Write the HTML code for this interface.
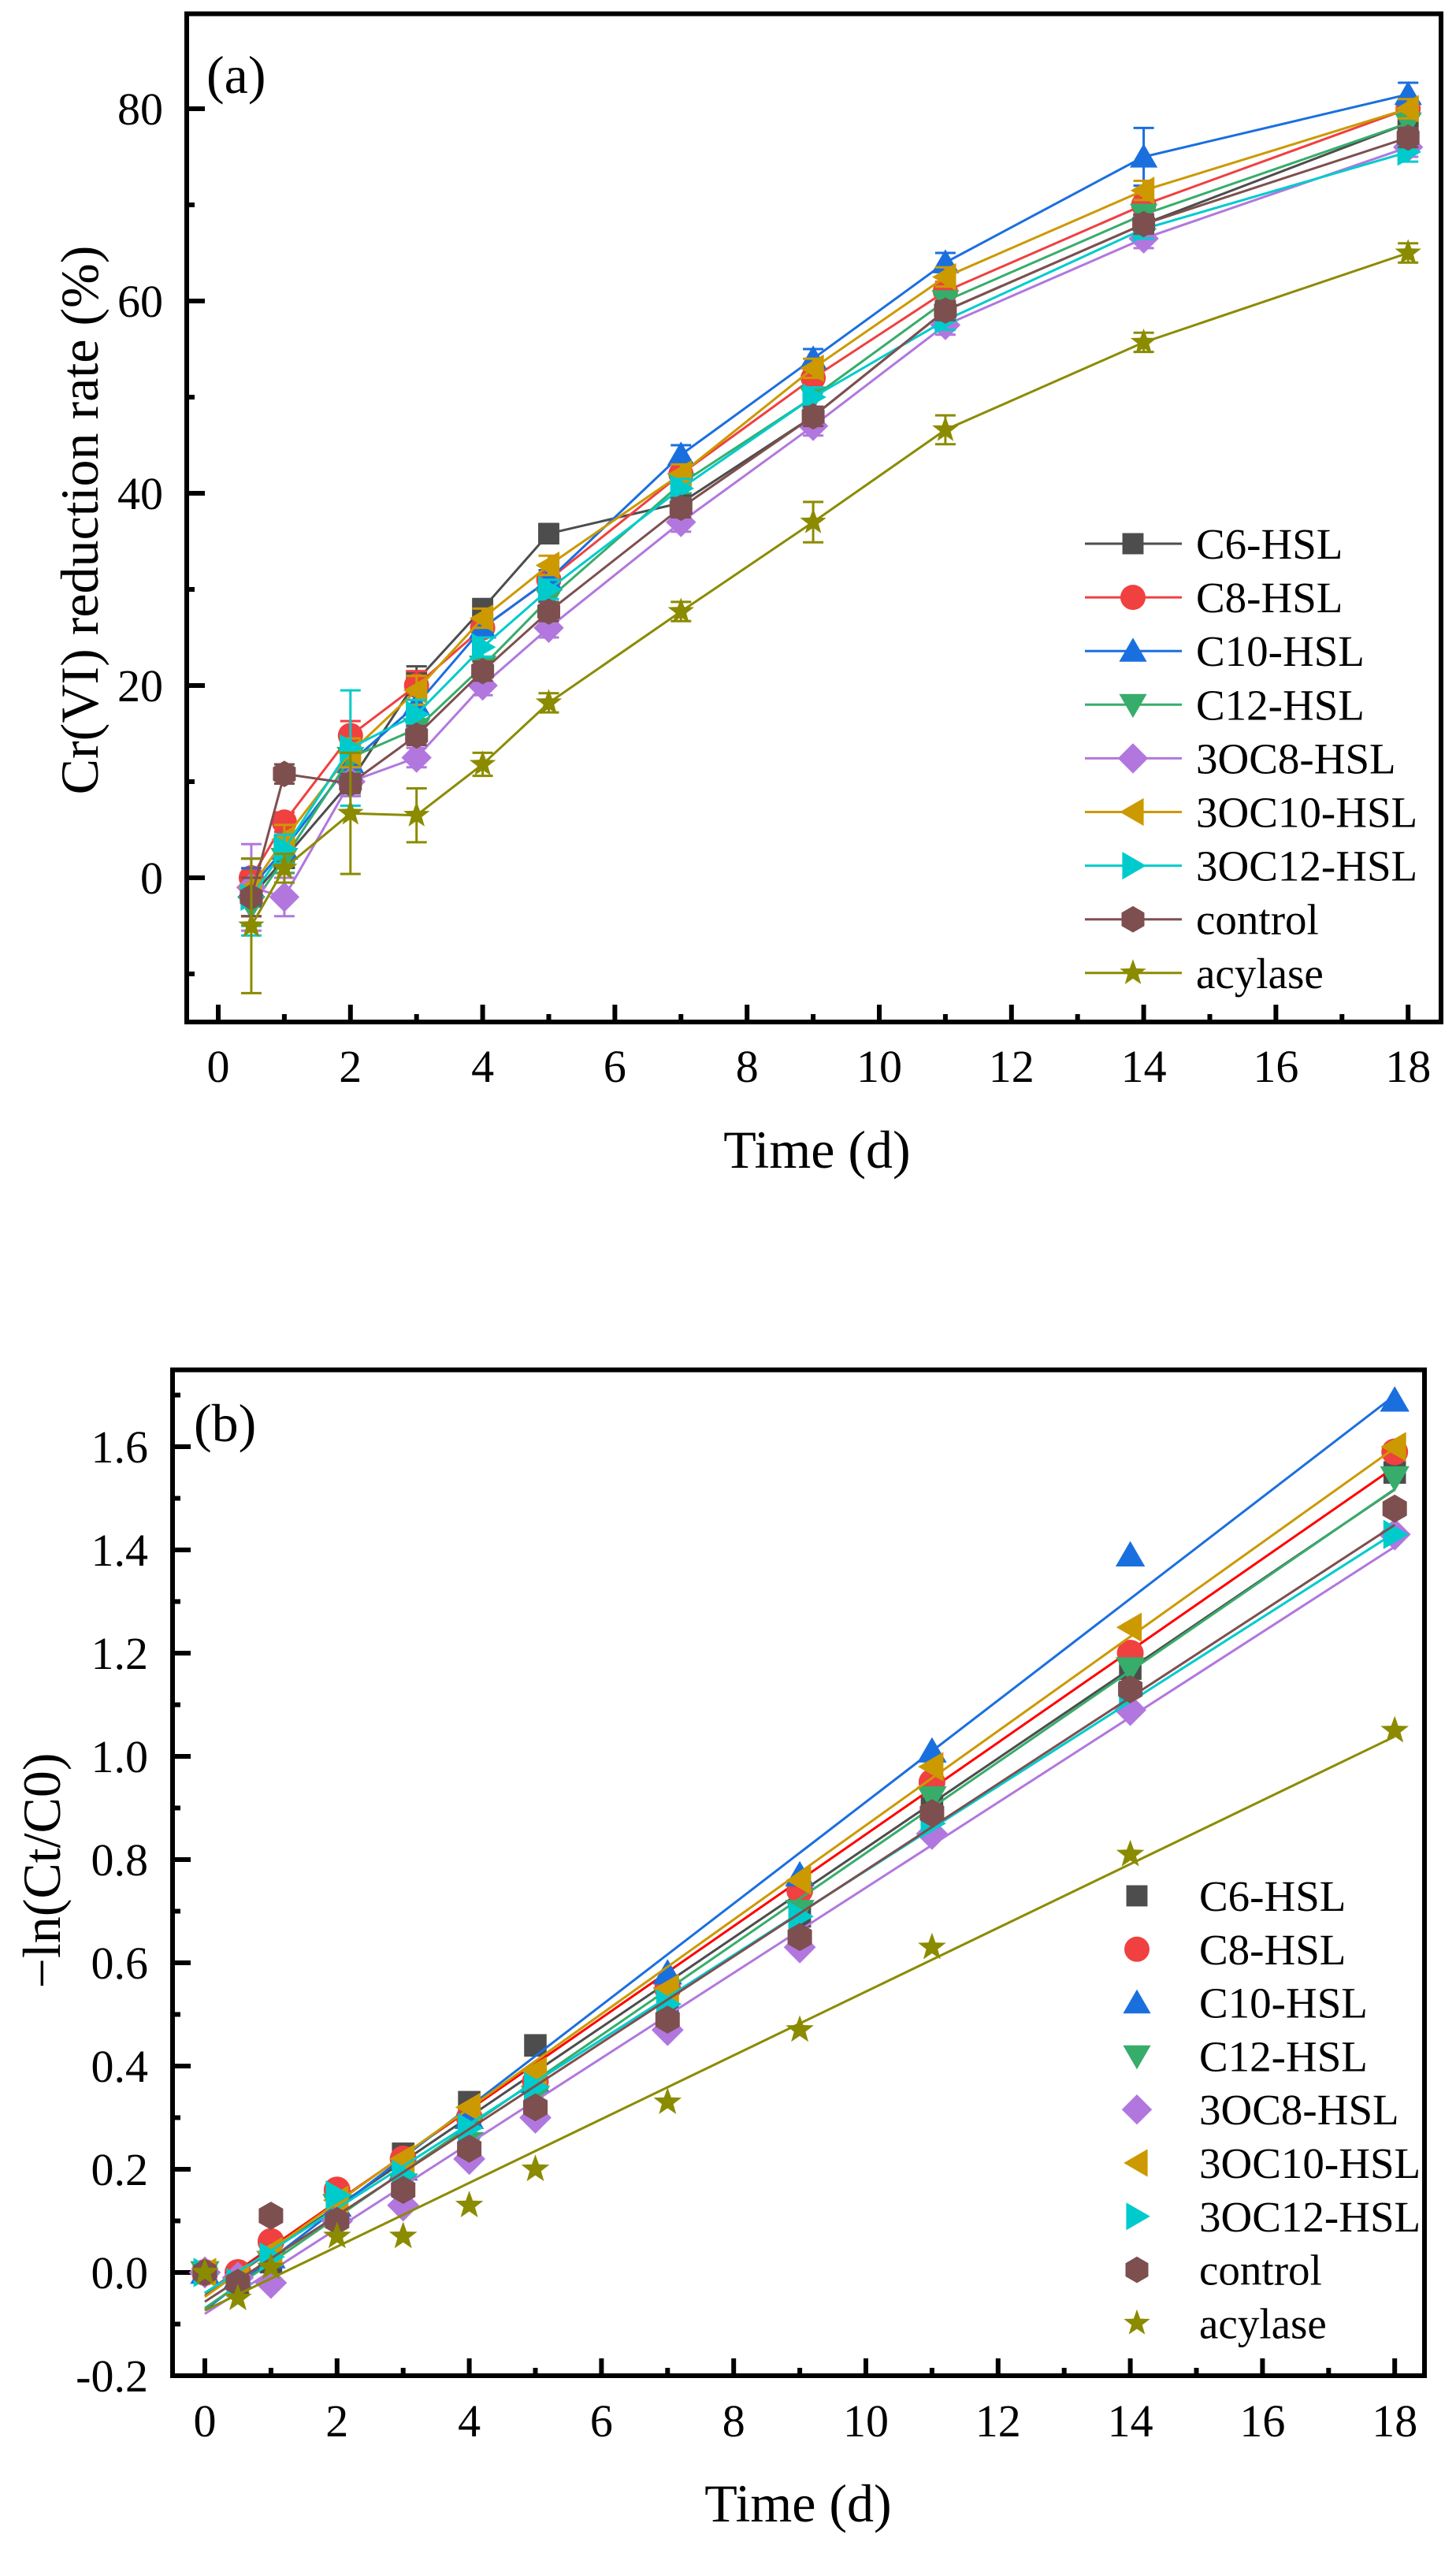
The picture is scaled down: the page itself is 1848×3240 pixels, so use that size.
<!DOCTYPE html>
<html><head><meta charset="utf-8"><style>
html,body{margin:0;padding:0;background:#fff;}
svg{display:block;font-family:"Liberation Serif","Times New Roman",serif;}
</style></head><body>
<svg id="fig" width="1848" height="3240" viewBox="0 0 1848 3240" xmlns="http://www.w3.org/2000/svg">
<rect x="0" y="0" width="1848" height="3240" fill="#fff"/>
<g id="pa"></g>
<g id="pb"></g>
</svg>
<script>
const seriesNames = ["C6-HSL","C8-HSL","C10-HSL","C12-HSL","3OC8-HSL","3OC10-HSL","3OC12-HSL","control","acylase"];
const seriesColors = ["#4d4d4d","#f04040","#1a6fdf","#37ad6b","#b177de","#cc9900","#00cbcc","#7e4f4f","#8b8b00"];
const fitColors = ["#4d4d4d","#ff0000","#1a6fdf","#37ad6b","#b177de","#cc9900","#00cbcc","#7e4f4f","#8b8b00"];
const seriesShapes = ["square","circle","tri-up","tri-down","diamond","tri-left","tri-right","hexagon","star"];

// Panel (a) data
const timesA = [0.5,1,2,3,4,5,7,9,11,14,18];
const rateC6 = [-2,2,10,20.5,28,35.8,39,48,59,68,78.5];
const rateC8 = [0,5.8,14.8,20,26,31,42,52,61,70,80];
const rateC10 = [-1,3,12,18,26,31,44,54,64,75,81.5];
const rateC12 = [-3,2,12.5,15.5,22,29,41,50,60,69,78.5];
const rate3OC8 = [-1,-2,10,12.5,20,26,37,47,57.5,66.5,76];
const rate3OC10 = [-1,4,13,19.5,27,32.5,42,53,62.5,71.5,80];
const rate3OC12 = [-2,3,13.5,17,24,30,40.5,50,58,67.5,75.5];
const rateControl = [-2,10.8,9.8,14.8,21.5,27.7,38.5,48,59,68,77];
const rateAcylase = [-5,1,6.7,6.5,11.8,18.2,27.7,37,46.6,55.7,65];
const errC6 = [2,1.5,1.5,1.5,1,1,1,1,1,1,1];
const errC8 = [2,1,1.5,1.5,1,1,1,1,1,1,1];
const errC10 = [2,1.5,1.5,1.5,1,1,1,1,1,3,1.2];
const errC12 = [2,1.5,1.5,1.5,1,1,1,1,1,1,1];
const err3OC8 = [4.5,2,1.5,1,1,1,1,1,1,1,1];
const err3OC10 = [3,1.5,1.5,1.5,1,1,1,1,1,1,1];
const err3OC12 = [4,1.5,6,1.5,1,1,1,1,1,1,1];
const errControl = [2,1,1,1,1,1,1,1,1,1,1];
const errAcylase = [7,1.5,6.3,2.8,1.2,1,1,2.1,1.5,1,1];
const ticksAX = [0,2,4,6,8,10,12,14,16,18];
const ticksAY = [0,20,40,60,80];

// Panel (b) data
const timesB = [0,0.5,1,2,3,4,5,7,9,11,14,18];
const lnC6 = [0,-0.02,0.02,0.11,0.23,0.33,0.44,0.50,0.69,0.90,1.17,1.55];
const lnC8 = [0,0,0.06,0.16,0.22,0.30,0.37,0.55,0.74,0.95,1.20,1.59];
const lnC10 = [0,-0.01,0.03,0.13,0.20,0.30,0.37,0.58,0.77,1.01,1.39,1.69];
const lnC12 = [0,-0.03,0.02,0.13,0.17,0.25,0.34,0.53,0.70,0.92,1.17,1.54];
const ln3OC8 = [0,-0.01,-0.02,0.10,0.13,0.22,0.30,0.47,0.63,0.85,1.09,1.43];
const ln3OC10 = [0,-0.01,0.04,0.14,0.22,0.32,0.39,0.55,0.76,0.98,1.25,1.60];
const ln3OC12 = [0,-0.02,0.03,0.15,0.19,0.28,0.36,0.52,0.69,0.87,1.12,1.43];
const lnControl = [0,-0.02,0.11,0.10,0.16,0.24,0.32,0.49,0.65,0.89,1.13,1.48];
const lnAcylase = [0,-0.05,0.01,0.07,0.07,0.13,0.20,0.33,0.47,0.63,0.81,1.05];
const ticksBX = [0,2,4,6,8,10,12,14,16,18];
const ticksBY = [-0.2,0,0.2,0.4,0.6,0.8,1.0,1.2,1.4,1.6];

const rateSeries = [rateC6,rateC8,rateC10,rateC12,rate3OC8,rate3OC10,rate3OC12,rateControl,rateAcylase];
const errSeries = [errC6,errC8,errC10,errC12,err3OC8,err3OC10,err3OC12,errControl,errAcylase];
const lnSeries = [lnC6,lnC8,lnC10,lnC12,ln3OC8,ln3OC10,ln3OC12,lnControl,lnAcylase];

const NS = "http://www.w3.org/2000/svg";
function mk(parent, tag, attrs, txt){
  const e = document.createElementNS(NS, tag);
  for (const k in attrs) e.setAttribute(k, attrs[k]);
  if (txt !== undefined) e.textContent = txt;
  parent.appendChild(e);
  return e;
}
function markerPts(shape, cx, cy, s){
  const r = s/2;
  if (shape==="tri-up") return [[cx,cy-r*1.05],[cx+r*1.1,cy+r*0.85],[cx-r*1.1,cy+r*0.85]];
  if (shape==="tri-down") return [[cx,cy+r*1.05],[cx+r*1.1,cy-r*0.85],[cx-r*1.1,cy-r*0.85]];
  if (shape==="tri-left") return [[cx-r*1.05,cy],[cx+r*0.85,cy-r*1.1],[cx+r*0.85,cy+r*1.1]];
  if (shape==="tri-right") return [[cx+r*1.05,cy],[cx-r*0.85,cy-r*1.1],[cx-r*0.85,cy+r*1.1]];
  if (shape==="diamond") return [[cx,cy-r*1.2],[cx+r*1.2,cy],[cx,cy+r*1.2],[cx-r*1.2,cy]];
  if (shape==="hexagon"){ const p=[]; for(let i=0;i<6;i++){const a=Math.PI/6+i*Math.PI/3; p.push([cx+r*1.05*Math.cos(a),cy+r*1.05*Math.sin(a)]);} return p; }
  if (shape==="star"){ const p=[]; for(let i=0;i<10;i++){const a=-Math.PI/2+i*Math.PI/5; const rr=i%2?r*0.45:r*1.1; p.push([cx+rr*Math.cos(a),cy+rr*Math.sin(a)]);} return p; }
  return null;
}
function drawMarker(g, shape, cx, cy, s, color){
  let el;
  if (shape==="square") el = mk(g,"rect",{x:cx-s*0.42,y:cy-s*0.42,width:s*0.84,height:s*0.84,fill:color});
  else if (shape==="circle") el = mk(g,"circle",{cx:cx,cy:cy,r:s*0.5,fill:color});
  else el = mk(g,"polygon",{points:markerPts(shape,cx,cy,s).map(p=>p[0].toFixed(1)+","+p[1].toFixed(1)).join(" "),fill:color});
  return el;
}

function frameAndAxes(g, L, R, T, B, xs, ys, xTicks, yTicks, xMinorStep, xMin, xMax, yMinorStep, yMin, yMax, fmtY, yLabelX, xLabelY){
  const frame = mk(g,"rect",{x:L,y:T,width:R-L,height:B-T,fill:"none",stroke:"#000","stroke-width":6});
  
  
  for (let v=xMin; v<=xMax+1e-9; v+=xMinorStep){
    const major = xTicks.some(t=>Math.abs(t-v)<1e-6);
    const t = mk(g,"line",{x1:xs(v),x2:xs(v),y1:B,y2:B-(major?22:10),stroke:"#000","stroke-width":6});
    
    
  }
  for (let v=yMin; v<=yMax+1e-9; v+=yMinorStep){
    const major = yTicks.some(t=>Math.abs(t-v)<1e-6);
    const t = mk(g,"line",{x1:L,x2:L+(major?23:10),y1:ys(v),y2:ys(v),stroke:"#000","stroke-width":6});
    
    
  }
  xTicks.forEach(v=>{
    const t = mk(g,"text",{x:xs(v),y:xLabelY,"font-size":58,"text-anchor":"middle",fill:"#000"},String(v));
    
    
  });
  yTicks.forEach(v=>{
    const t = mk(g,"text",{x:yLabelX,y:ys(v)+20,"font-size":58,"text-anchor":"end",fill:"#000"},fmtY(v));
    
    
  });
}

// ---------- Panel A ----------
(function(){
  const g = document.getElementById('pa');
  const L=237,R=1829,T=17.5,B=1297;
  const xs = v => 277 + v*83.9;
  const ys = v => 1114 - v*12.2;
  frameAndAxes(g,L,R,T,B,xs,ys,ticksAX,ticksAY,1,0,18,10,-10,80,v=>String(v),207,1373);
  const xt = mk(g,"text",{x:1037,y:1482,"font-size":68,"text-anchor":"middle"},"Time (d)");
  
  
  const yt = mk(g,"text",{x:0,y:0,"font-size":68,"text-anchor":"middle",transform:"translate(124,660) rotate(-90)"},"Cr(VI) reduction rate (%)");
  
  
  const pl = mk(g,"text",{x:262,y:118,"font-size":68},"(a)");
  
  
  for (let s=0; s<seriesNames.length; s++){
    const sg = mk(g,"g",{});
    
    
    const vals = rateSeries[s], errs = errSeries[s], col = seriesColors[s];
    const ln = mk(sg,"polyline",{points:timesA.map((t,i)=>xs(t).toFixed(1)+","+ys(vals[i]).toFixed(1)).join(" "),fill:"none",stroke:col,"stroke-width":3});
    
    
    timesA.forEach((t,i)=>{
      const x=xs(t), y1=ys(vals[i]+errs[i]), y2=ys(vals[i]-errs[i]);
      const e = mk(sg,"path",{d:`M${x},${y1}V${y2}M${x-13},${y1}H${x+13}M${x-13},${y2}H${x+13}`,stroke:col,"stroke-width":3,fill:"none"});
      
      
    });
    timesA.forEach((t,i)=>{
      const m = drawMarker(sg, seriesShapes[s], xs(t), ys(vals[i]), 32, col);
      
      
    });
  }
  const lg = mk(g,"g",{});
  
  
  seriesNames.forEach((n,i)=>{
    const y = 690 + i*68.1;
    const eg = mk(lg,"g",{});
    
    
    mk(eg,"line",{x1:1377,x2:1500,y1:y,y2:y,stroke:seriesColors[i],"stroke-width":3});
    drawMarker(eg, seriesShapes[i], 1438, y, 32, seriesColors[i]);
    mk(eg,"text",{x:1518,y:y+19,"font-size":55},n);
  });
})();

// ---------- Panel B ----------
(function(){
  const g = document.getElementById('pb');
  const L=219,R=1808,T=1738.5,B=3015;
  const xs = v => 260 + v*83.9;
  const ys = v => 2884 - v*655;
  frameAndAxes(g,L,R,T,B,xs,ys,ticksBX,ticksBY,1,0,18,0.1,-0.2,1.7,v=>v.toFixed(1),188,3092);
  const xt = mk(g,"text",{x:1013,y:3200,"font-size":68,"text-anchor":"middle"},"Time (d)");
  
  
  const yt = mk(g,"text",{x:0,y:0,"font-size":68,"text-anchor":"middle",transform:"translate(76,2374) rotate(-90)"},"\u2212ln(Ct/C0)");
  
  
  const pl = mk(g,"text",{x:246,y:1829,"font-size":68},"(b)");
  
  
  for (let s=0; s<seriesNames.length; s++){
    const sg = mk(g,"g",{});
    
    
    const vals = lnSeries[s];
    const n = timesB.length;
    let sx=0,sy=0,sxx=0,sxy=0;
    for (let i=0;i<n;i++){ sx+=timesB[i]; sy+=vals[i]; sxx+=timesB[i]*timesB[i]; sxy+=timesB[i]*vals[i]; }
    const k = (n*sxy-sx*sy)/(n*sxx-sx*sx), b0 = (sy-k*sx)/n;
    const fl = mk(sg,"line",{x1:xs(0),y1:ys(b0),x2:xs(18),y2:ys(b0+k*18),stroke:fitColors[s],"stroke-width":3});
    
    
    timesB.forEach((t,i)=>{
      const m = drawMarker(sg, seriesShapes[s], xs(t), ys(vals[i]), 34, seriesColors[s]);
      
      
    });
  }
  const lg = mk(g,"g",{});
  
  
  seriesNames.forEach((n,i)=>{
    const y = 2406 + i*67.8;
    const eg = mk(lg,"g",{});
    
    
    drawMarker(eg, seriesShapes[i], 1443, y, 32, seriesColors[i]);
    mk(eg,"text",{x:1522,y:y+19,"font-size":55},n);
  });
})();
</script>
</body></html>
